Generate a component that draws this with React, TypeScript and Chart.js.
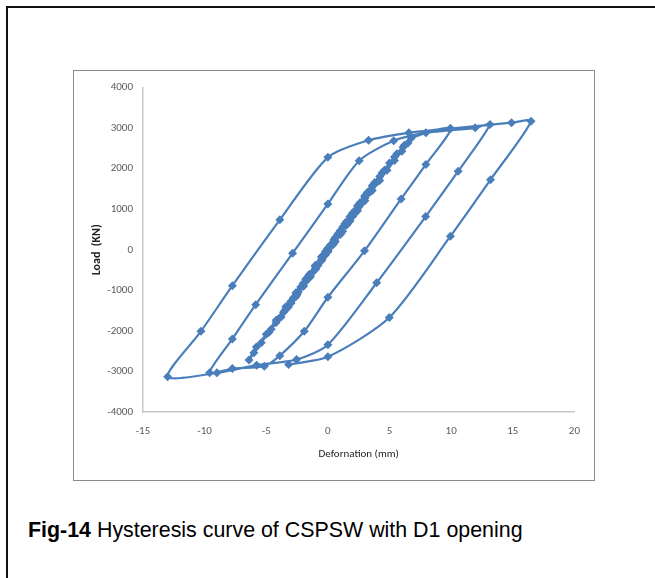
import React, { useEffect, useRef } from "react";
import { Chart, registerables } from "chart.js";

Chart.register(...registerables);

// Tick values
const xTickMin = -15;
const xTickMax = 20;
const xTickStep = 5;
const yTickMin = -4000;
const yTickMax = 4000;
const yTickStep = 1000;

// Small elastic cycles (thick band around the origin) – deformation (mm) / load (KN)
const cycle1Deform = [0, 0.5, 1, 1.5, 1, 0.5, 0, -0.5, -1, -1.5, -1, -0.5, 0];
const cycle1Load = [0, 240, 450, 640, 400, 190, -20, -240, -450, -640, -400, -190, 20];

const cycle2Deform = [0.5, 1, 1.5, 2, 2.5, 2, 1.5, 1, 0.5, 0, -0.5, -1, -1.5, -2, -2.5, -2, -1.5, -1, -0.5, 0];
const cycle2Load = [240, 460, 670, 880, 1070, 830, 610, 400, 180, -30, -250, -460, -670, -880, -1070, -830, -610, -400, -180, 30];

const cycle3Deform = [0.5, 1, 1.5, 2, 2.5, 3, 3.5, 3, 2.5, 2, 1.5, 1, 0.5, 0, -0.5, -1, -1.5, -2, -2.5, -3, -3.5, -3, -2.5, -2, -1.5, -1, -0.5, 0];
const cycle3Load = [250, 470, 690, 900, 1110, 1320, 1500, 1270, 1050, 830, 610, 390, 170, -40, -260, -480, -690, -900, -1110, -1320, -1500, -1270, -1050, -830, -610, -390, -170, 40];

const cycle4Deform = [0.6, 1.2, 1.8, 2.4, 3, 3.6, 4.2, 4.6, 4, 3.4, 2.8, 2.2, 1.6, 1, 0.4, -0.2, -0.8, -1.4, -2, -2.6, -3.2, -3.8, -4.6, -4, -3.4, -2.8, -2.2, -1.6, -1, -0.4, 0.2];
const cycle4Load = [300, 560, 820, 1080, 1330, 1580, 1810, 1960, 1680, 1420, 1160, 900, 640, 380, 120, -130, -390, -650, -900, -1160, -1410, -1660, -1960, -1700, -1440, -1180, -920, -660, -400, -140, 120];

const cycle5Deform = [0.8, 1.4, 2, 2.6, 3.2, 3.8, 4.4, 5, 5.6, 6.1, 6.5, 6, 5.4, 4.8, 4.2, 3.6, 3, 2.4, 1.8, 1.2, 0.6, 0, -0.6, -1.2, -1.8, -2.4, -3, -3.6, -4.2, -4.8, -5.4, -6, -6.4];
const cycle5Load = [390, 640, 900, 1160, 1410, 1660, 1900, 2140, 2370, 2530, 2633, 2430, 2200, 1960, 1710, 1460, 1210, 960, 710, 460, 210, -40, -290, -540, -790, -1040, -1290, -1540, -1790, -2040, -2290, -2540, -2720];

// Loop up to ~10 mm
const loopCUpDeform = [-5.8, -5, -4.2, -3.4, -2.6, -1.8, -1, -0.2, 0.6, 1.4, 2.2, 3, 3.8, 4.6, 5.4, 6.2, 6.77, 9.94];
const loopCUpLoad = [-2400, -2080, -1740, -1400, -1060, -720, -380, -40, 300, 640, 970, 1300, 1630, 1960, 2290, 2580, 2760, 2992];
const loop3DownDeform = [7.95, 5.94, 2.97, 0, -1.92, -3.9, -5.16, -7.75, -9.6];
const loop3DownLoad = [2106, 1255, -25, -1170, -2010, -2610, -2870, -2930, -3035];

// Loop up to ~13 mm
const loopBUpDeform = [-7.75, -5.86, -2.86, 0, 2.54, 5.34, 7.95, 11.95, 13.15];
const loopBUpLoad = [-2197, -1353, -82, 1130, 2197, 2690, 2884, 3009, 3093];
const loop2DownDeform = [10.57, 7.93, 3.96, 0, -2.54, -5.78, -9.0, -13.0];
const loop2DownLoad = [1938, 820, -812, -2340, -2706, -2846, -3035, -3130];

// Loop up to ~16.5 mm
const loopAUpDeform = [-10.3, -7.75, -3.9, 0, 3.3, 6.57, 9.94, 14.9, 16.48];
const loopAUpLoad = [-2010, -886, 738, 2280, 2700, 2884, 2992, 3134, 3173];
const loop1DownDeform = [13.19, 9.94, 4.98, 0, -3.19];
const loop1DownLoad = [1730, 335, -1670, -2640, -2830];

const deformation = [
  ...cycle1Deform,
  ...cycle2Deform,
  ...cycle3Deform,
  ...cycle4Deform,
  ...cycle5Deform,
  ...loopCUpDeform,
  ...loop3DownDeform,
  ...loopBUpDeform,
  ...loop2DownDeform,
  ...loopAUpDeform,
  ...loop1DownDeform,
];
const load = [
  ...cycle1Load,
  ...cycle2Load,
  ...cycle3Load,
  ...cycle4Load,
  ...cycle5Load,
  ...loopCUpLoad,
  ...loop3DownLoad,
  ...loopBUpLoad,
  ...loop2DownLoad,
  ...loopAUpLoad,
  ...loop1DownLoad,
];

const BLUE = "#4A7EBB";
const TICK_FONT = 'Carlito, "Liberation Sans Narrow", "DejaVu Sans Condensed", "Open Sans", sans-serif';

export default function App() {
  const canvasRef = useRef<HTMLCanvasElement | null>(null);

  useEffect(() => {
    if (!canvasRef.current) return;
    const points = deformation.map((x, i) => ({ x, y: load[i] }));
    const chart = new Chart(canvasRef.current, {
      type: "scatter",
      data: {
        datasets: [
          {
            label: "Load",
            data: points,
            showLine: true,
            borderColor: BLUE,
            backgroundColor: BLUE,
            borderWidth: 2.2,
            tension: 0.25,
            pointStyle: "rectRot",
            pointRadius: 4.5,
            pointBorderWidth: 0,
            pointBackgroundColor: BLUE,
          },
        ],
      },
      options: {
        responsive: false,
        animation: false,
        layout: { padding: { left: 0, top: 16, right: 17, bottom: 0 } },
        plugins: {
          legend: { display: false },
          tooltip: { enabled: false },
        },
        scales: {
          x: {
            type: "linear",
            min: xTickMin,
            max: xTickMax,
            afterFit: (scale: any) => {
              scale.height = 67;
            },
            ticks: {
              stepSize: xTickStep,
              padding: 13,
              color: "#595959",
              font: { family: TICK_FONT, size: 11 },
              callback: (v: any) => String(v),
            },
            grid: { display: false, drawTicks: false },
            border: { display: true, color: "#c8c8c8", width: 1.5 },
            title: {
              display: true,
              text: "Defornation (mm)",
              color: "#222222",
              font: { family: TICK_FONT, size: 11, weight: "normal" },
              padding: { top: 0, bottom: 18.4 },
            },
          },
          y: {
            type: "linear",
            min: yTickMin,
            max: yTickMax,
            afterFit: (scale: any) => {
              scale.width = 69;
            },
            ticks: {
              stepSize: yTickStep,
              padding: 10,
              color: "#595959",
              font: { family: TICK_FONT, size: 11 },
              callback: (v: any) => String(v),
            },
            grid: { display: false, drawTicks: false },
            border: { display: true, color: "#c8c8c8", width: 1.5 },
            title: {
              display: true,
              text: "Load  (KN)",
              color: "#222222",
              font: { family: TICK_FONT, size: 12, weight: "bold" },
              padding: { top: 16, bottom: 0 },
            },
          },
        },
      },
    });
    return () => chart.destroy();
  }, []);

  return (
    <div
      style={{
        position: "absolute",
        left: 0,
        top: 0,
        width: 655,
        height: 578,
        overflow: "hidden",
        background: "#ffffff",
      }}
    >
      <div
        style={{
          position: "absolute",
          left: 6,
          top: 6,
          width: 760,
          height: 700,
          borderLeft: "2px solid #111",
          borderTop: "2px solid #111",
        }}
      />
      <div
        style={{
          position: "absolute",
          left: 73,
          top: 70,
          width: 520,
          height: 409,
          border: "1px solid #8c8c8c",
          boxSizing: "content-box",
        }}
      />
      <canvas
        ref={canvasRef}
        width={519}
        height={408}
        style={{ position: "absolute", left: 74, top: 71, width: 519, height: 408 }}
      />
      <div
        style={{
          position: "absolute",
          left: 28,
          top: 518,
          fontFamily: '"Liberation Sans", Arial, sans-serif',
          fontSize: 21.4,
          color: "#000",
          whiteSpace: "nowrap",
          lineHeight: "24px",
        }}
      >
        <b>Fig-14</b> Hysteresis curve of CSPSW with D1 opening
      </div>
    </div>
  );
}
